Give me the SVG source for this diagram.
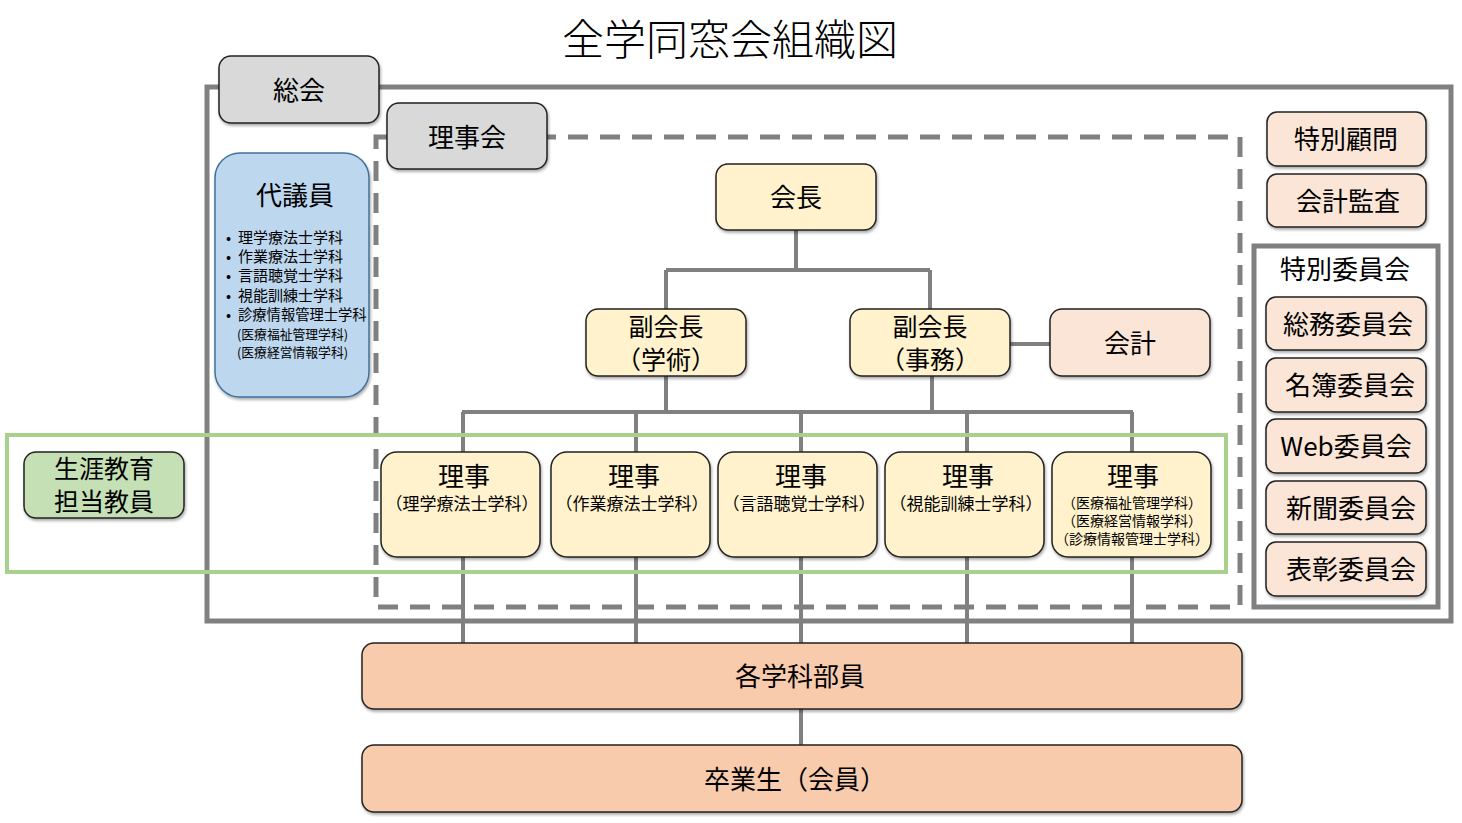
<svg xmlns="http://www.w3.org/2000/svg" width="1462" height="823" viewBox="0 0 1462 823">
<defs>
<filter id="sh" x="-10%" y="-10%" width="120%" height="130%">
<feDropShadow dx="1" dy="2" stdDeviation="1.5" flood-color="#000" flood-opacity="0.35"/>
</filter>
<style>
text{font-family:"Noto Sans CJK JP","Noto Sans",sans-serif;fill:#000;text-anchor:middle}
.box{stroke:#222;stroke-width:1.5;filter:url(#sh)}
.gray{fill:#d9d9d9}
.yel{fill:#fff2cc}
.pink{fill:#fbe5d6}
.peach{fill:#f8cbad}
.blue{fill:#bdd7ee;stroke:#41719c}
.green{fill:#c5e0b4}
.ln{stroke:#808080;stroke-width:4;fill:none}
.frame{stroke:#808080;stroke-width:5;fill:none}
.dash{stroke:#808080;stroke-width:5;fill:none;stroke-dasharray:20 12}
.t26{font-size:26px}
.t25{font-size:25px}
.t17{font-size:17px}
.t15{font-size:15px;text-anchor:start}
.t13{font-size:12.8px;text-anchor:start}
.t14{font-size:14px}
</style>
</defs>
<rect width="1462" height="823" fill="#fff"/>
<text x="730" y="55" style="font-size:42px;font-weight:300">全学同窓会組織図</text>

<g id="frames">
<rect class="frame" x="207" y="87" width="1244" height="534"/>
<rect class="dash" x="376" y="137" width="864" height="470"/>
<rect class="frame" x="1254" y="246" width="184" height="361"/>
</g>

<g id="connectors">
<path class="ln" d="M796 230V270M666 270H930M666 270V309M930 270V309"/>
<path class="ln" d="M1010 344H1050"/>
<path class="ln" d="M666 376V412M932 376V412M462 412H1133"/>
<path class="ln" d="M463 412V643M636 412V643M801 412V643M967 412V643M1132 412V643"/>
<path class="ln" d="M801 709V745"/>
</g>

<rect x="7" y="435" width="1219" height="137" fill="none" stroke="#a9d18e" stroke-width="4"/>

<g id="sokai"><rect class="box gray" x="219" y="56" width="160" height="67" rx="12"/><text class="t26" x="299" y="100">総会</text></g>
<g id="rijikai"><rect class="box gray" x="387" y="103" width="160" height="66" rx="12"/><text class="t26" x="467" y="147">理事会</text></g>

<g id="daigiin"><rect class="box blue" x="215" y="153" width="154" height="244" rx="25"/>
<text class="t26" x="295" y="205">代議員</text>
<text class="t15" x="226" y="243">•</text><text class="t15" x="238" y="243">理学療法士学科</text>
<text class="t15" x="226" y="262">•</text><text class="t15" x="238" y="262">作業療法士学科</text>
<text class="t15" x="226" y="281">•</text><text class="t15" x="238" y="281">言語聴覚士学科</text>
<text class="t15" x="226" y="301">•</text><text class="t15" x="238" y="301">視能訓練士学科</text>
<text class="t15" x="226" y="320">•</text><text class="t13" x="238" y="320" style="font-size:14.3px">診療情報管理士学科</text>
<text class="t13" x="237" y="339">(医療福祉管理学科)</text>
<text class="t13" x="237" y="357">(医療経営情報学科)</text>
</g>

<g id="kaicho"><rect class="box yel" x="716" y="164" width="160" height="66" rx="12"/><text class="t26" x="796" y="207">会長</text></g>
<g id="fuku1"><rect class="box yel" x="586" y="309" width="160" height="67" rx="12"/><text class="t25" x="666" y="336">副会長</text><text class="t25" x="666" y="369">（学術）</text></g>
<g id="fuku2"><rect class="box yel" x="850" y="309" width="160" height="67" rx="12"/><text class="t25" x="930" y="336">副会長</text><text class="t25" x="930" y="369">（事務）</text></g>
<g id="kaikei"><rect class="box pink" x="1050" y="309" width="160" height="67" rx="12"/><text class="t26" x="1130" y="353">会計</text></g>

<g id="shogai"><rect class="box green" x="24" y="452" width="160" height="66" rx="12"/><text class="t25" x="104" y="478">生涯教育</text><text class="t25" x="104" y="511">担当教員</text></g>

<g id="riji1"><rect class="box yel" x="381" y="452" width="159" height="105" rx="16"/><text class="t26" x="464" y="486">理事</text><text class="t17" x="462" y="510">（理学療法士学科）</text></g>
<g id="riji2"><rect class="box yel" x="551" y="452" width="159" height="105" rx="16"/><text class="t26" x="634" y="486">理事</text><text class="t17" x="632" y="510">（作業療法士学科）</text></g>
<g id="riji3"><rect class="box yel" x="718" y="452" width="159" height="105" rx="16"/><text class="t26" x="801" y="486">理事</text><text class="t17" x="799" y="510">（言語聴覚士学科）</text></g>
<g id="riji4"><rect class="box yel" x="885" y="452" width="159" height="105" rx="16"/><text class="t26" x="968" y="486">理事</text><text class="t17" x="966" y="510">（視能訓練士学科）</text></g>
<g id="riji5"><rect class="box yel" x="1052" y="452" width="159" height="105" rx="16"/><text class="t26" x="1133" y="486">理事</text>
<text class="t14" x="1132" y="508">（医療福祉管理学科）</text>
<text class="t14" x="1132" y="526">（医療経営情報学科）</text>
<text class="t14" x="1132" y="544">（診療情報管理士学科）</text></g>

<g id="bukai"><rect class="box peach" x="362" y="643" width="880" height="66" rx="12"/><text class="t26" x="800" y="686">各学科部員</text></g>
<g id="sotsugyo"><rect class="box peach" x="362" y="745" width="880" height="67" rx="12"/><text class="t26" x="795" y="789">卒業生（会員）</text></g>

<g id="komon"><rect class="box pink" x="1267" y="112" width="159" height="54" rx="10"/><text class="t26" x="1346" y="149">特別顧問</text></g>
<g id="kansa"><rect class="box pink" x="1267" y="174" width="159" height="53" rx="10"/><text class="t26" x="1348" y="211">会計監査</text></g>
<text class="t26" x="1345" y="279">特別委員会</text>
<g id="somu"><rect class="box pink" x="1266" y="297" width="160" height="53" rx="10"/><text class="t26" x="1348" y="334">総務委員会</text></g>
<g id="meibo"><rect class="box pink" x="1266" y="358" width="160" height="54" rx="10"/><text class="t26" x="1350" y="395">名簿委員会</text></g>
<g id="web"><rect class="box pink" x="1266" y="419" width="160" height="54" rx="10"/><text class="t26" x="1346" y="456">Web委員会</text></g>
<g id="shinbun"><rect class="box pink" x="1266" y="481" width="160" height="53" rx="10"/><text class="t26" x="1351" y="518">新聞委員会</text></g>
<g id="hyosho"><rect class="box pink" x="1266" y="542" width="160" height="54" rx="10"/><text class="t26" x="1351" y="579">表彰委員会</text></g>
</svg>
